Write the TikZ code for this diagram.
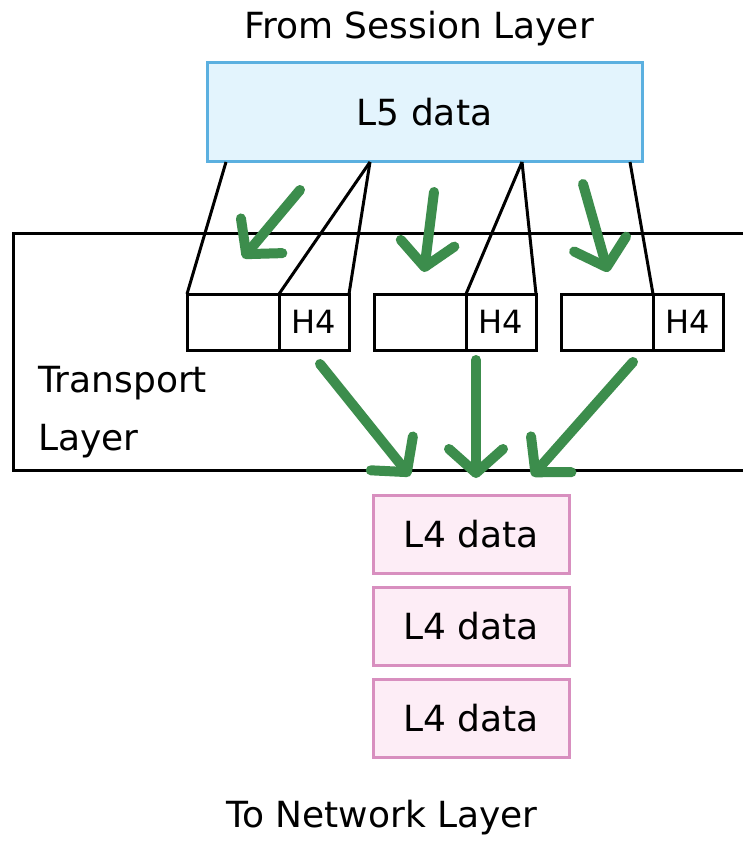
\documentclass[tikz,border=0pt]{standalone}
\usepackage{fontspec}
\setmainfont{DejaVu Sans}
\usetikzlibrary{positioning,arrows.meta}
\definecolor{flowgreen}{HTML}{3C8D4C}
\definecolor{l5blue}{HTML}{5BB0E0}
\definecolor{l5fill}{HTML}{E3F4FD}
\definecolor{segpink}{HTML}{D88FBF}
\definecolor{segfill}{HTML}{FDEDF6}

\begin{document}
\begin{tikzpicture}[x=1pt, y=-1pt,
  every node/.style={font=\fontsize{36}{58}\selectfont, outer sep=0pt},
  cut/.style={line width=3pt},
  flow/.style={line width=10pt, color=flowgreen, line cap=round,
    -{Straight Barb[length=24pt, width=54pt, round]}},
  pkt/.style={draw, line width=3pt, minimum width=92pt, minimum height=56pt, inner sep=0pt},
  hdr/.style={pkt, minimum width=70pt, font=\fontsize{32}{38}\selectfont},
  seg/.style={draw=segpink, fill=segfill, line width=3pt, minimum width=196pt,
    minimum height=78pt, inner sep=0pt}
]
\fill[white] (0,0) rectangle (743,842);
\useasboundingbox (0,0) rectangle (743,842);
\clip (0,0) rectangle (743,842);

% layers
\node (from) [anchor=base] at (419,39) {From Session Layer};
\node (l5) [draw=l5blue, fill=l5fill, line width=3pt, minimum width=435pt,
  minimum height=99pt] at (424.5,112.5) {L5 data};
\node (transport) [draw, line width=3pt, minimum width=747pt, minimum height=237pt]
  at (386.5,351.5) {};
\node (tname) [anchor=north west, align=left, inner sep=0pt] at (38,366) {Transport\\Layer};

% segments with headers
\node (p1) [pkt] at (233,322) {};
\node (h1) [hdr, right=0pt of p1] {H4};
\node (p2) [pkt] at (420,322) {};
\node (h2) [hdr, right=0pt of p2] {H4};
\node (p3) [pkt] at (607,322) {};
\node (h3) [hdr, right=0pt of p3] {H4};

\node (l4a) [seg] at (471,534) {L4 data};
\node (l4b) [seg, below=14pt of l4a] {L4 data};
\node (l4c) [seg, below=14pt of l4b] {L4 data};
\node (to) [anchor=base] at (382,827) {To Network Layer};

% where L5 data is cut
\coordinate (s1) at (226,162);
\coordinate (s2) at (370,162);
\coordinate (s3) at (522,162);
\coordinate (s4) at (630,162);
\path[cut]
  (s1) edge (p1.north west)
  (s2) edge (p1.north east)
  (s2) edge (h1.north east)
  (s3) edge (p2.north east)
  (s3) edge (h2.north east)
  (s4) edge (p3.north east)
  ;

% green arrows
\coordinate (a1) at (300,190);  \coordinate (a1e) at (243,258);
\coordinate (a2) at (434,192);  \coordinate (a2e) at (424,272);
\coordinate (a3) at (583,184);  \coordinate (a3e) at (608,272);
\coordinate (b1) at (320,364);  \coordinate (b1e) at (410,476);
\coordinate (b2) at (476,360);  \coordinate (b2e) at (476,478);
\coordinate (b3) at (633,362);  \coordinate (b3e) at (532,476);
\path[flow]
  (a1) edge (a1e)
  (a2) edge (a2e)
  (a3) edge (a3e)
  (b1) edge (b1e)
  (b2) edge (b2e)
  (b3) edge (b3e)
  ;
\end{tikzpicture}
\end{document}
